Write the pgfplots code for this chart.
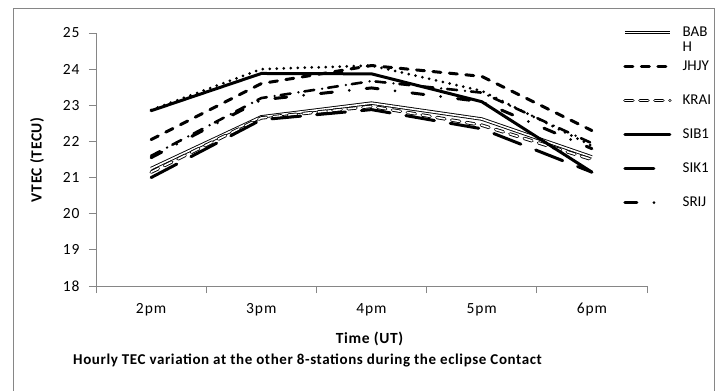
\documentclass[border=0pt]{standalone}
\usepackage{fontspec}
\setmainfont{Carlito}
\newfontfamily\tickfont[LetterSpace=6]{Carlito}
\newfontfamily\labelfont[LetterSpace=4]{Carlito}
\usepackage{pgfplots}
\pgfplotsset{compat=1.18}

\definecolor{axisgray}{RGB}{134,134,134}
\definecolor{framegray}{RGB}{134,134,134}

\begin{document}
\begin{tikzpicture}
% page extent around the plot area (plot area origin at 0,0)
\useasboundingbox (-96bp,-105bp) rectangle (624bp,286bp);
% chart frame
\draw[framegray, line width=0.8bp] (-83bp,-130bp) rectangle (618bp,278bp);

\begin{axis}[
  scale only axis,
  width=551bp, height=253bp,
  at={(0,0)}, anchor=south west,
  xmin=-0.5, xmax=4.5,
  ymin=18, ymax=25,
  axis lines*=left,
  axis line style={axisgray, line width=0.8bp},
  every tick/.style={axisgray, line width=0.8bp},
  tick align=outside,
  major tick length=7bp,
  xtick={-0.5,0.5,1.5,2.5,3.5,4.5},
  x tick label as interval,
  xticklabels={2pm,3pm,4pm,5pm,6pm},
  ytick={18,19,20,21,22,23,24,25},
  /pgf/number format/assume math mode=true,
  tick label style={font=\tickfont\fontsize{15.5bp}{18bp}\selectfont, black},
  xticklabel style={yshift=-7bp},
  yticklabel style={xshift=-6bp},
  xlabel={\textbf{Time (UT)}},
  xlabel style={font=\labelfont\fontsize{15.5bp}{18bp}\selectfont, at={(axis description cs:0.497,-0.2095)}, anchor=center},
  ylabel={\textbf{VTEC (TECU)}},
  ylabel style={font=\labelfont\fontsize{15.5bp}{18bp}\selectfont, at={(axis description cs:-0.107,0.5)}, anchor=center, rotate=0},
  clip=false,
  legend image code/.code={\draw[#1] (0bp,0bp) -- (45bp,0bp);},
  legend cell align=left,
  legend style={
    draw=none, fill=none,
    at={(axis description cs:0.9565,1.036)}, anchor=north west,
    font=\fontsize{15bp}{18bp}\selectfont,
    inner sep=0pt,
    row sep=17bp,
    column sep=10bp,
    nodes={inner sep=1bp, text height=11bp, text depth=4bp},
  },
]

% BABH
\addplot[black, line width=0.9bp, double=white, double distance=1.6bp]
  coordinates {(0,21.25) (1,22.68) (2,23.06) (3,22.62) (4,21.57)};
\addlegendentry{\raisebox{0pt}[\height][0pt]{\begin{tabular}[t]{@{}l@{}}BAB\\[-3bp]H\end{tabular}}}

% JHJY
\addplot[black, line width=3bp, line cap=round, dash pattern=on 8bp off 8.5bp]
  coordinates {(0,22.05) (1,23.60) (2,24.10) (3,23.80) (4,22.30)};
\addlegendentry{JHJY}

% KRAI
\addplot[black, line width=0.9bp, double=white, double distance=1.6bp, line cap=round, dash pattern=on 8bp off 7bp]
  coordinates {(0,21.15) (1,22.65) (2,22.97) (3,22.45) (4,21.50)};
\addlegendentry{KRAI}

% SIB1
\addplot[black, line width=3bp, line cap=round]
  coordinates {(0,22.85) (1,23.88) (2,23.87) (3,23.10) (4,21.15)};
\addlegendentry{SIB1}

% SIK1
\addplot[black, line width=3bp, line cap=round, dash pattern=on 29bp off 16bp]
  coordinates {(0,21.00) (1,22.60) (2,22.88) (3,22.35) (4,21.15)};
\addlegendentry{SIK1}

% SRIJ
\addplot[black, line width=3bp, line cap=round, dash pattern=on 12bp off 17bp on 0bp off 17bp]
  coordinates {(0,21.55) (1,23.15) (2,23.48) (3,23.10) (4,21.80)};
\addlegendentry{SRIJ}

% remaining two stations (legend entries fall outside the frame)
\addplot[black, line width=2.6bp, line cap=round, dash pattern=on 10bp off 8bp on 0bp off 6bp, forget plot]
  coordinates {(0,21.60) (1,23.20) (2,23.67) (3,23.35) (4,21.95)};
\addplot[black, line width=3bp, line cap=round, dash pattern=on 0bp off 7bp, forget plot]
  coordinates {(0,22.87) (1,24.00) (2,24.10) (3,23.40) (4,21.88)};

\node[anchor=west, font=\labelfont\bfseries\fontsize{15bp}{18bp}\selectfont, inner sep=0pt]
  at (axis description cs:-0.0417,-0.2925)
  {Hourly TEC variation at the other 8-stations during the eclipse Contact};
\end{axis}
\end{tikzpicture}
\end{document}
